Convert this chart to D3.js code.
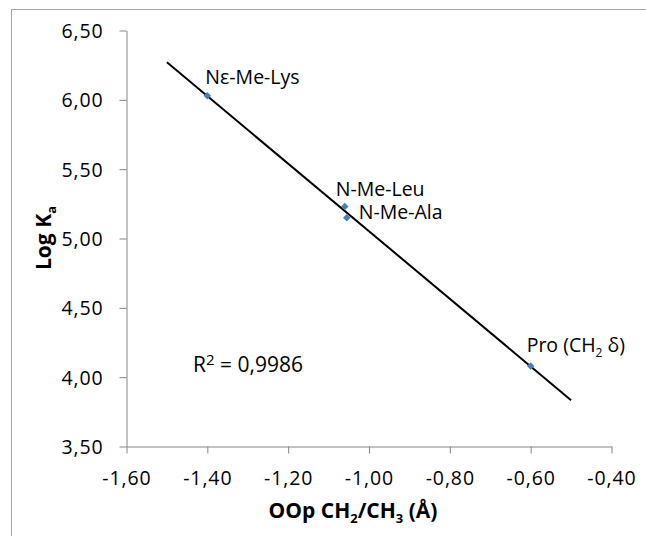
<!DOCTYPE html>
<html><head><meta charset="utf-8">
<script src="https://cdn.jsdelivr.net/npm/d3@7"></script>
<style>
html,body{margin:0;padding:0;background:#fff;}
svg{display:block;font-family:"Open Sans",sans-serif;}
</style></head>
<body>
<svg id="c" width="646" height="536"></svg>
<script>
// Data
const labels = ["Nε-Me-Lys", "N-Me-Leu", "N-Me-Ala", "Pro (CH2 δ)"];
const xValues = [-1.40, -1.06, -1.055, -0.60];
const yValues = [6.03, 5.23, 5.15, 4.08];
const xTicks = [-1.6, -1.4, -1.2, -1.0, -0.8, -0.6, -0.4];
const yTicks = [3.5, 4.0, 4.5, 5.0, 5.5, 6.0, 6.5];
const trendRange = [-1.5, -0.5];
const r2Text = "0,9986";

const svg = d3.select("#c");
// chart area border
svg.append("rect").attr("x", 11.5).attr("y", 9.5).attr("width", 700).attr("height", 600)
  .attr("fill", "none").attr("stroke", "#a6a6a6").attr("stroke-width", 1);

const x = d3.scaleLinear().domain([-1.6, -0.4]).range([126.5, 611.5]);
const y = d3.scaleLinear().domain([3.5, 6.5]).range([446.5, 30.5]);
const fmt = d => d3.format(".2f")(d).replace(".", ",").replace("−", "-");

const axisColor = "#868686";
const gy = svg.append("g").attr("transform", "translate(126.5,0)")
  .call(d3.axisLeft(y).tickValues(yTicks).tickFormat(fmt).tickSize(7).tickSizeOuter(0).tickPadding(16));
const gx = svg.append("g").attr("transform", "translate(0,446.5)")
  .call(d3.axisBottom(x).tickValues(xTicks).tickFormat(fmt).tickSize(7).tickSizeOuter(0).tickPadding(18));
[gx, gy].forEach(g => {
  g.select(".domain").attr("stroke", axisColor);
  g.selectAll(".tick line").attr("stroke", axisColor);
  g.selectAll(".tick text").attr("fill", "#000").attr("font-family", "Open Sans")
    .attr("font-size", 19.5).attr("letter-spacing", 0.9);
});
gx.selectAll(".tick text").attr("dy", null).attr("y", 38.5);
gy.selectAll(".tick text").attr("dy", "0.36em");

// regression trendline
const n = xValues.length;
const mx = d3.mean(xValues), my = d3.mean(yValues);
let sxy = 0, sxx = 0;
for (let i = 0; i < n; i++) { sxy += (xValues[i]-mx)*(yValues[i]-my); sxx += (xValues[i]-mx)**2; }
const slope = sxy/sxx, icpt = my - slope*mx;
svg.append("line")
  .attr("x1", x(trendRange[0])).attr("y1", y(icpt + slope*trendRange[0]))
  .attr("x2", x(trendRange[1])).attr("y2", y(icpt + slope*trendRange[1]))
  .attr("stroke", "#000").attr("stroke-width", 2);

// points
svg.selectAll("path.pt").data(xValues).enter().append("path").attr("class", "pt")
  .attr("d", d3.symbol(d3.symbolSquare, 28))
  .attr("transform", (d, i) => `translate(${x(d)},${y(yValues[i])}) rotate(45)`)
  .attr("fill", "#4a7ebb");

// point labels
const offs = [[-2, -12], [-9, -11], [12, 1], [-4, -14]];
labels.forEach((lab, i) => {
  const t = svg.append("text")
    .attr("x", x(xValues[i]) + offs[i][0]).attr("y", y(yValues[i]) + offs[i][1])
    .attr("font-size", 19.5).attr("fill", "#000");
  if (lab.indexOf("CH2") >= 0) {
    t.append("tspan").text("Pro (CH");
    t.append("tspan").text("2").attr("font-size", 12).attr("dy", 5);
    t.append("tspan").text(" δ)").attr("dy", -5);
  } else {
    t.text(lab);
  }
});

// R² annotation
const r = svg.append("text").attr("x", 193).attr("y", 371.5).attr("font-size", 21).attr("fill", "#000");
r.append("tspan").text("R");
r.append("tspan").text("2").attr("font-size", 15).attr("dy", -7);
r.append("tspan").text(" = " + r2Text).attr("dy", 7);

// axis titles
const xt = svg.append("text").attr("x", 353).attr("y", 517.5).attr("text-anchor", "middle")
  .attr("font-size", 21).attr("font-weight", "bold").attr("fill", "#000");
xt.append("tspan").text("OOp CH");
xt.append("tspan").text("2").attr("font-size", 13).attr("dy", 5);
xt.append("tspan").text("/CH").attr("dy", -5);
xt.append("tspan").text("3").attr("font-size", 13).attr("dy", 5);
xt.append("tspan").text(" (Å)").attr("dy", -5);

const yt = svg.append("text").attr("transform", "translate(51,238) rotate(-90)")
  .attr("text-anchor", "middle").attr("font-size", 21).attr("font-weight", "bold").attr("fill", "#000");
yt.append("tspan").text("Log K");
yt.append("tspan").text("a").attr("font-size", 13).attr("dy", 5);
</script>
</body></html>
